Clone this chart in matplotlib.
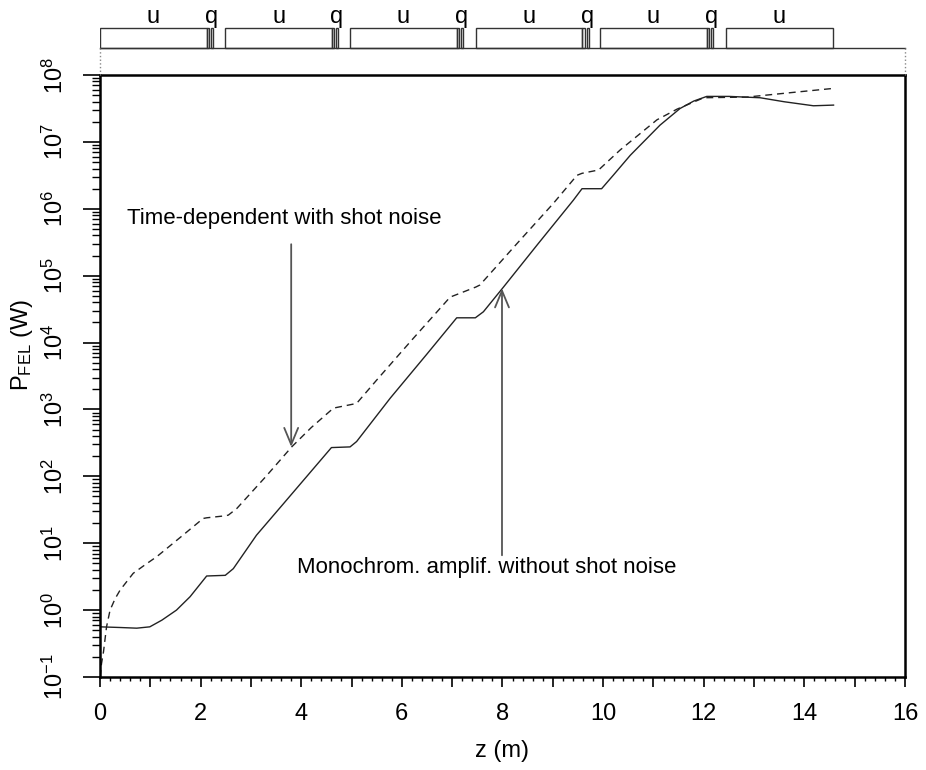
import numpy as np
import matplotlib
matplotlib.use('Agg')
import matplotlib.pyplot as plt
from matplotlib.patches import Rectangle
from matplotlib.ticker import LogLocator, NullFormatter, MultipleLocator

plt.rcParams['font.family'] = ['Liberation Sans', 'DejaVu Sans']
plt.rcParams['mathtext.fontset'] = 'custom'
plt.rcParams['mathtext.rm'] = 'Liberation Sans'
plt.rcParams['mathtext.it'] = 'Liberation Sans:italic'
plt.rcParams['mathtext.bf'] = 'Liberation Sans:bold'

# monochromatic amplification without shot noise (z in m, log10 of P in W)
mono_z = [0, 0.4, 0.73, 0.99, 1.23, 1.52, 1.79, 2.12, 2.49, 2.65, 3.11, 3.6, 4.1,
          4.6, 4.97, 5.1, 5.77, 6.5, 7.09, 7.46, 7.62, 8.02, 8.7, 9.41, 9.58,
          9.97, 10.2, 10.54, 11.13, 11.53, 11.8, 12.06, 12.5, 13.12, 13.6, 14.18, 14.58]
mono_logp = [-0.25, -0.26, -0.27, -0.25, -0.15, 0.0, 0.2, 0.51, 0.52, 0.62, 1.12, 1.55, 1.99,
             2.43, 2.44, 2.52, 3.17, 3.83, 4.37, 4.37, 4.46, 4.83, 5.47, 6.13, 6.30,
             6.30, 6.50, 6.80, 7.25, 7.50, 7.61, 7.68, 7.68, 7.66, 7.60, 7.54, 7.55]

# time-dependent with shot noise
td_z = [0, 0.03, 0.07, 0.13, 0.2, 0.3, 0.4, 0.66, 0.9, 1.13, 1.6, 2.05, 2.12, 2.49,
        2.55, 2.72, 3.3, 3.81, 4.2, 4.64, 4.97, 5.1, 5.5, 6.2, 6.96, 7.2, 7.47, 7.55,
        8.3, 9.01, 9.48, 9.58, 9.91, 10.34, 11.07, 11.47, 12.0, 12.86, 13.78, 14.58]
td_logp = [-1.0, -0.8, -0.62, -0.25, 0.0, 0.17, 0.3, 0.55, 0.68, 0.8, 1.09, 1.37, 1.38, 1.41,
           1.42, 1.52, 2.0, 2.44, 2.73, 3.02, 3.07, 3.09, 3.44, 4.04, 4.68, 4.75, 4.83, 4.86,
           5.49, 6.08, 6.50, 6.53, 6.58, 6.88, 7.33, 7.49, 7.66, 7.67, 7.74, 7.80]

# lattice: undulator module starts, lengths (m)
und_starts = [0, 2.49, 4.97, 7.47, 9.94, 12.44]
und_len = 2.12
quad_len = 0.05
quad_gap = 0.03

x_ticks = list(range(0, 17))
x_ticklabels = [str(v) if v % 2 == 0 else '' for v in x_ticks]
y_exps = list(range(-1, 9))

fig = plt.figure(figsize=(9.26, 7.70), dpi=100)
ax = fig.add_axes([100 / 926, 93 / 770, 805 / 926, 602 / 770])

ax.plot(mono_z, 10.0 ** np.array(mono_logp), color='#222222', lw=1.0)
ax.plot(td_z, 10.0 ** np.array(td_logp), color='#222222', lw=1.0, dashes=(5, 3.5))

ax.set_yscale('log')
ax.set_xlim(0, 16)
ax.set_ylim(1e-1, 1e8)

ax.set_xticks(x_ticks)
ax.set_xticklabels(x_ticklabels)
ax.xaxis.set_minor_locator(MultipleLocator(0.2))
ax.set_yticks([10.0 ** k for k in y_exps])
ax.set_yticklabels([f'$10^{{{k}}}$' for k in y_exps])
ax.yaxis.set_minor_locator(LogLocator(base=10, subs=np.arange(2, 10) * 1.0, numticks=100))
ax.yaxis.set_minor_formatter(NullFormatter())

ax.tick_params(axis='x', which='major', direction='out', length=7, width=1.2,
               pad=12, labelsize=17)
ax.tick_params(axis='x', which='minor', direction='out', length=3, width=1)
ax.tick_params(axis='y', which='major', direction='out', length=12, width=1.2,
               pad=11, labelsize=17, labelrotation=90)
ax.tick_params(axis='y', which='minor', direction='out', length=5.5, width=1)
for lab in ax.get_yticklabels():
    lab.set_va('center')

for sp in ax.spines.values():
    sp.set_linewidth(1.8)

ax.set_xlabel('z (m)', fontsize=17)
ax.xaxis.set_label_coords(0.5, -0.123)
ax.xaxis.label.set_va('center')
ax.set_ylabel(r'P$_{\mathrm{FEL}}$ (W)', fontsize=17)
ax.yaxis.set_label_coords(-0.097, 0.551)
ax.yaxis.label.set_va('center')

arrow_kw = dict(arrowstyle='->,head_length=0.6,head_width=0.25', color='#555555',
                lw=1.3, shrinkA=0, shrinkB=0, mutation_scale=20)
ax.annotate('', xy=(3.8, 10 ** 2.44), xytext=(3.8, 10 ** 5.47), arrowprops=arrow_kw)
ax.annotate('', xy=(7.99, 10 ** 4.81), xytext=(7.99, 10 ** 0.82), arrowprops=arrow_kw)
ax.text(0.54, 10 ** 5.86, 'Time-dependent with shot noise', fontsize=16,
        ha='left', va='center')
ax.text(3.92, 10 ** 0.63, 'Monochrom. amplif. without shot noise', fontsize=16,
        ha='left', va='center')

# lattice schematic above the plot
lat = fig.add_axes([100 / 926, 695 / 770, 805 / 926, 75 / 770])
lat.set_xlim(0, 16)
lat.set_ylim(75, 0)
lat.axis('off')
lat.plot([0, 16], [48, 48], color='#333333', lw=1.0, clip_on=False)
for i, s in enumerate(und_starts):
    lat.add_patch(Rectangle((s, 28), und_len, 20, fill=False, ec='#333333', lw=1.0))
    lat.text(s + und_len / 2, 23, 'u', fontsize=17, ha='center', va='baseline')
    if i < len(und_starts) - 1:
        q0 = s + und_len
        lat.add_patch(Rectangle((q0, 28), quad_len, 20, fill=False, ec='#333333', lw=1.0))
        lat.add_patch(Rectangle((q0 + quad_len + quad_gap, 28), quad_len, 20,
                                fill=False, ec='#333333', lw=1.0))
        lat.text(q0 + quad_len + quad_gap / 2 + 0.03, 23, 'q', fontsize=17,
                 ha='center', va='baseline')
for xv in (0, 16):
    lat.plot([xv, xv], [48, 75], color='#888888', lw=1.0, ls=':', clip_on=False)

fig.savefig('out.png', dpi=100)
